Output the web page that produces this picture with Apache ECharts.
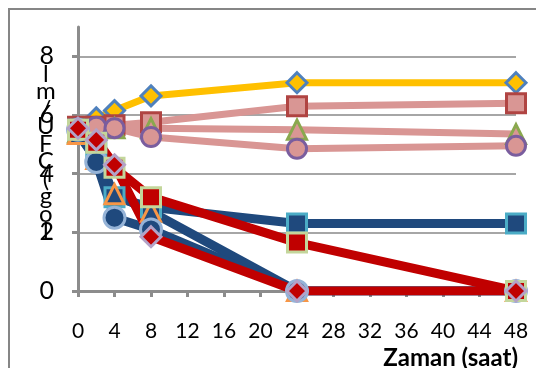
<!DOCTYPE html>
<html><head><meta charset="utf-8">
<script src="https://cdn.jsdelivr.net/npm/echarts@6/dist/echarts.min.js"></script>
<style>html,body{margin:0;padding:0;background:#fff}#c{width:536px;height:368px}</style>
</head><body><div id="c"></div>
<script>
// Data
var hours = [0, 2, 4, 8, 24, 48];
var xTicks = [0, 4, 8, 12, 16, 20, 24, 28, 32, 36, 40, 44, 48];
var yTicks = [0, 2, 4, 6, 8];
var yTitle = 'log(CFU/ml)';
var xTitle = 'Zaman (saat)';
var s1 = [5.5, 5.9, 6.15, 6.65, 7.1, 7.1];
var s2 = [5.6, 5.6, 5.65, 5.75, 6.3, 6.4];
var s3 = [5.4, 5.5, 5.55, 5.55, 5.5, 5.35];
var s4 = [5.55, 5.6, 5.55, 5.25, 4.85, 4.95];
var s5 = [5.5, 4.8, 3.2, 2.85, 2.3, 2.3];
var s6 = [5.35, 4.5, 3.3, 2.7, 0, 0];
var s7 = [5.5, 4.4, 2.5, 2.1, 0, 0];
var s8 = [5.5, 5.05, 4.2, 3.2, 1.65, 0];
var s9 = [5.55, 5.15, 4.3, 1.85, 0, 0];

var styles = [
  {d: s1, line: '#FFC000', w: 7, sym: 'diamond', fill: '#FFC000', border: '#4F81BD', size: 20},
  {d: s2, line: '#D99694', w: 7, sym: 'rect', fill: '#D99694', border: '#B04442', size: 19},
  {d: s3, line: '#D99694', w: 7, sym: 'triangle', fill: '#D99694', border: '#8AA84E', size: 19},
  {d: s4, line: '#D99694', w: 7, sym: 'circle', fill: '#D99694', border: '#7A5D9E', size: 19},
  {d: s5, line: '#1F497D', w: 9, sym: 'rect', fill: '#1F497D', border: '#4BACC6', size: 19},
  {d: s6, line: '#1F497D', w: 9, sym: 'triangle', fill: '#1F497D', border: '#F79646', size: 19},
  {d: s7, line: '#1F497D', w: 9, sym: 'circle', fill: '#1F497D', border: '#95B3D7', size: 21},
  {d: s8, line: '#C00000', w: 9, sym: 'rect', fill: '#C00000', border: '#C3D69B', size: 19},
  {d: s9, line: '#C00000', w: 9, sym: 'diamond', fill: '#C00000', border: '#B3A2C7', size: 20}
];

var series = styles.map(function (st) {
  return {
    type: 'line',
    data: hours.map(function (h, i) { return [h, st.d[i]]; }),
    symbol: st.sym,
    symbolSize: st.size,
    lineStyle: {color: st.line, width: st.w},
    itemStyle: {color: st.fill, borderColor: st.border, borderWidth: 3},
    emphasis: {disabled: true},
    animation: false
  };
});

var chart = echarts.init(document.getElementById('c'));
chart.setOption({
  animation: false,
  grid: {left: 78, right: 20, top: 27, bottom: 77},
  graphic: [
    {type: 'rect', shape: {x: 9, y: 9, width: 600, height: 400}, style: {fill: 'none', stroke: '#868686', lineWidth: 2}, z: -1},
    {type: 'text', left: 36, top: 62, style: {text: yTitle.split('').reverse().slice(1).join('\n'), font: '24px Lato', fill: '#000', lineHeight: 17.5, textAlign: 'center'}},
    {type: 'text', right: 18, top: 346, style: {text: xTitle, font: 'bold 24px Lato', fill: '#000'}}
  ],
  xAxis: {
    type: 'value', min: 0, max: 48, interval: 4,
    axisLine: {lineStyle: {color: '#8C8C8C', width: 3}},
    axisTick: {show: true, length: 6, lineStyle: {color: '#8C8C8C', width: 3}},
    axisLabel: {fontFamily: 'Lato', fontSize: 21, color: '#000', margin: 30},
    splitLine: {show: false}
  },
  yAxis: {
    type: 'value', min: 0, max: 9, interval: 2,
    axisLine: {show: true, lineStyle: {color: '#8C8C8C', width: 3}},
    axisTick: {show: true, length: 6, lineStyle: {color: '#8C8C8C', width: 3}},
    axisLabel: {fontFamily: 'Lato', fontSize: 25, color: '#000', margin: 24, showMaxLabel: false,
      formatter: function (v) { return yTicks.indexOf(v) >= 0 ? String(v) : ''; }},
    splitLine: {show: true, lineStyle: {color: ['#A6A6A6', '#A6A6A6', '#A6A6A6', '#A6A6A6', '#A6A6A6', 'rgba(0,0,0,0)'], width: 2}}
  },
  series: series
});
</script></body></html>
